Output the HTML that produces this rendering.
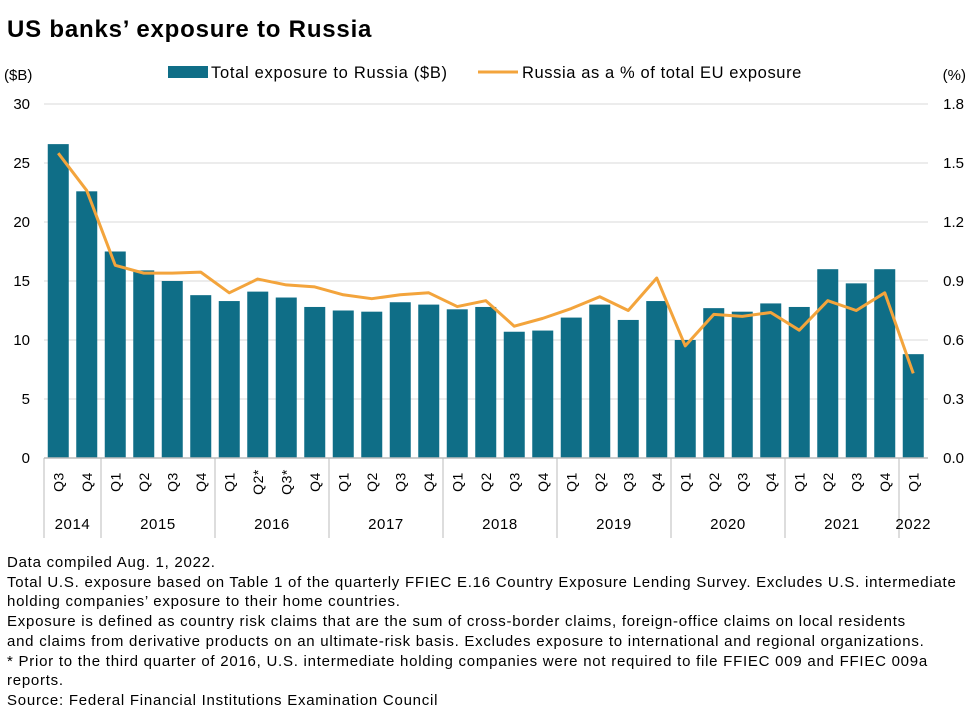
<!DOCTYPE html>
<html><head><meta charset="utf-8"><style>
body{margin:0;background:#fff;font-family:"Liberation Sans",sans-serif;}
#wrap{position:relative;width:975px;height:725px;overflow:hidden}
.title{position:absolute;left:7px;top:16px;font-size:24px;letter-spacing:0.8px;font-weight:bold;color:#000}
.notes{position:absolute;left:7px;top:553px;font-size:15px;letter-spacing:0.75px;line-height:19.7px;color:#000;white-space:nowrap}
</style></head><body><div id="wrap">
<div class="title">US banks’ exposure to Russia</div>
<svg id="svg" width="975" height="725" style="position:absolute;left:0;top:0"></svg>
<div class="notes">Data compiled Aug. 1, 2022.<br>Total U.S. exposure based on Table 1 of the quarterly FFIEC E.16 Country Exposure Lending Survey. Excludes U.S. intermediate<br>holding companies’ exposure to their home countries.<br>Exposure is defined as country risk claims that are the sum of cross-border claims, foreign-office claims on local residents<br>and claims from derivative products on an ultimate-risk basis. Excludes exposure to international and regional organizations.<br>* Prior to the third quarter of 2016, U.S. intermediate holding companies were not required to file FFIEC 009 and FFIEC 009a<br>reports.<br>Source: Federal Financial Institutions Examination Council</div>
</div>
<script>
const quarters=["Q3","Q4","Q1","Q2","Q3","Q4","Q1","Q2*","Q3*","Q4","Q1","Q2","Q3","Q4","Q1","Q2","Q3","Q4","Q1","Q2","Q3","Q4","Q1","Q2","Q3","Q4","Q1","Q2","Q3","Q4","Q1"];
const years=["2014","2015","2016","2017","2018","2019","2020","2021","2022"];
const yearCounts=[2,4,4,4,4,4,4,4,1];
const exposure=[26.6,22.6,17.5,15.9,15.0,13.8,13.3,14.1,13.6,12.8,12.5,12.4,13.2,13.0,12.6,12.8,10.7,10.8,11.9,13.0,11.7,13.3,10.0,12.7,12.4,13.1,12.8,16.0,14.8,16.0,8.8];
const pct=[1.55,1.36,0.98,0.94,0.94,0.945,0.84,0.91,0.88,0.87,0.83,0.81,0.83,0.84,0.77,0.80,0.67,0.71,0.76,0.82,0.75,0.915,0.57,0.73,0.72,0.74,0.65,0.80,0.75,0.84,0.43];
const leftTicks=[0,5,10,15,20,25,30];
const rightTicks=["0.0","0.3","0.6","0.9","1.2","1.5","1.8"];
const svg=document.getElementById('svg');const NS="http://www.w3.org/2000/svg";
function mk(t,a,txt){const e=document.createElementNS(NS,t);for(const k in a)e.setAttribute(k,a[k]);if(txt!=null)e.textContent=txt;svg.appendChild(e);return e;}
const x0=44,step=28.5,yTop=104,yBot=458;
const yL=v=>yBot-(v/30)*(yBot-yTop);
const yR=v=>yBot-(v/1.8)*(yBot-yTop);
const xc=i=>x0+step*(i+0.5);
leftTicks.forEach((t,i)=>{
 const y=yL(t);
 if(t>0){const g=mk('line',{x1:x0,x2:928,y1:y,y2:y,stroke:'#d9d9d9','stroke-width':1});}
 const a=mk('text',{x:30,y:y+5,'text-anchor':'end','font-size':15,fill:'#000'},t);
 const b=mk('text',{x:964,y:y+5,'text-anchor':'end','font-size':15,fill:'#000'},rightTicks[i]);
});
let t1=mk('text',{x:4,y:80,'font-size':15},'($B)');
let t2=mk('text',{x:966,y:80,'font-size':15,'text-anchor':'end'},'(%)');
exposure.forEach((v,i)=>{const r=mk('rect',{x:xc(i)-10.5,y:yL(v),width:21,height:yBot-yL(v),fill:'#0f6e87'});});
const pl=mk('polyline',{points:pct.map((v,i)=>xc(i)+','+yR(v)).join(' '),fill:'none',stroke:'#f3a43c','stroke-width':3,'stroke-linejoin':'round'});

let ax=mk('line',{x1:x0,x2:928,y1:yBot,y2:yBot,stroke:'#bbb','stroke-width':1.5});
quarters.forEach((q,i)=>{const t=mk('text',{transform:`translate(${xc(i)+5},482) rotate(-90)`,'text-anchor':'middle','font-size':14,'letter-spacing':0.5},q);});
let idx=0;
years.forEach((y,k)=>{
 const xs=x0+idx*step;const xe=xs+yearCounts[k]*step;
 const l=mk('line',{x1:xs,x2:xs,y1:yBot,y2:538,stroke:'#bbb','stroke-width':1});
 const t=mk('text',{x:(xs+xe)/2,y:529,'text-anchor':'middle','font-size':15,'letter-spacing':0.6},y);
 idx+=yearCounts[k];
});
let lr=mk('rect',{x:168,y:66,width:40,height:12,fill:'#0f6e87'});
let lt=mk('text',{x:211,y:78,'font-size':16.5,'letter-spacing':0.7},'Total exposure to Russia ($B)');
let ll=mk('line',{x1:478,x2:518,y1:72,y2:72,stroke:'#f3a43c','stroke-width':3});
let lt2=mk('text',{x:522,y:78,'font-size':16.5,'letter-spacing':0.6},'Russia as a % of total EU exposure');
</script></body></html>
